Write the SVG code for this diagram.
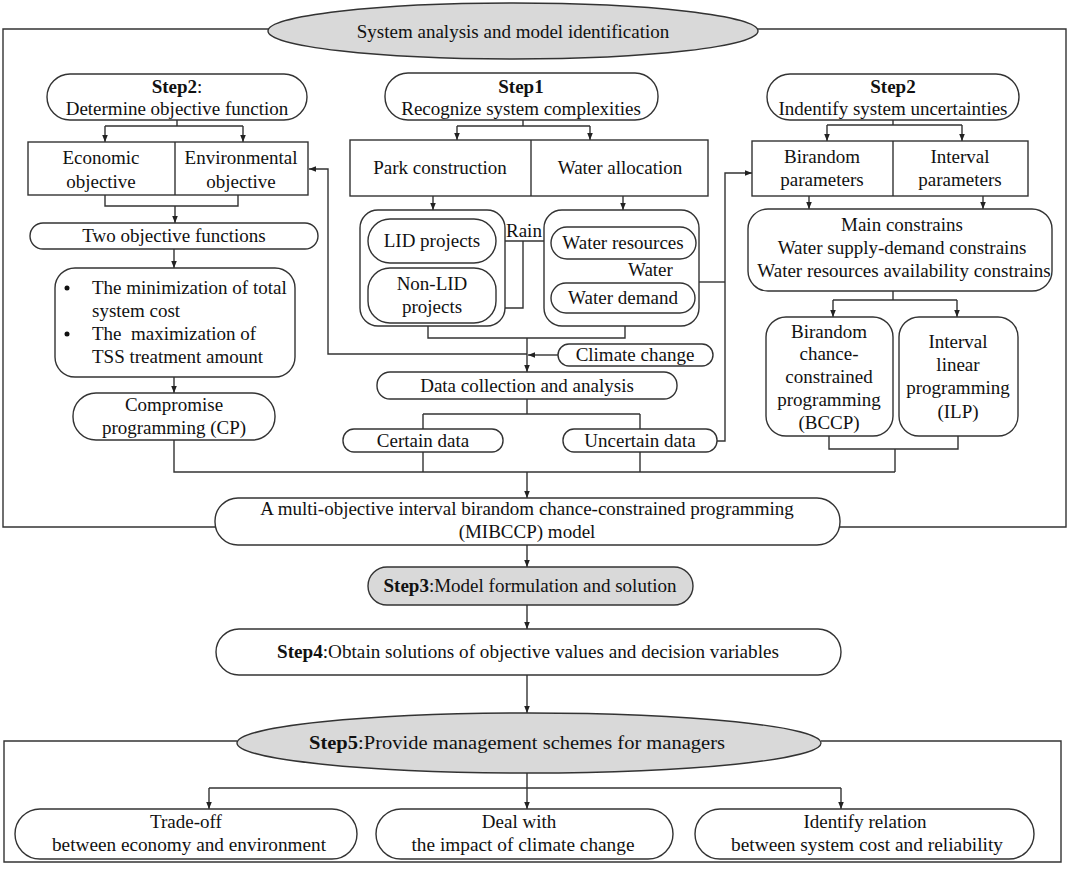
<svg xmlns="http://www.w3.org/2000/svg" width="1072" height="869" viewBox="0 0 1072 869">
<style>
.n{fill:#fff;stroke:#333;stroke-width:1.4}
.g{fill:#d9d9d9;stroke:#333;stroke-width:1.4}
.c{fill:none;stroke:#333;stroke-width:1.4}
.a{fill:none;stroke:#333;stroke-width:1.4;marker-end:url(#ah)}
text{font-family:"Liberation Serif","Times New Roman",serif;font-size:19px;fill:#111;text-anchor:middle}
.s{text-anchor:start}
.b{font-weight:bold}
</style>
<defs>
<marker id="ah" viewBox="0 0 10 10" refX="10" refY="5" markerWidth="7" markerHeight="7" markerUnits="userSpaceOnUse" orient="auto"><path d="M0,1 L10,5 L0,9z" fill="#222"/></marker>
</defs>
<rect width="1072" height="869" fill="#fff"/>

<g id="connectors">
<path class="c" d="M215,527 H3 V29 H269 M757,29 H1066 V527 H840"/>
<path class="c" d="M237,741 H4 V862 H1061 V741 H821"/>
<path class="c" d="M177,120 V126 M105,126 H243"/>
<path class="a" d="M105,126 V142"/>
<path class="a" d="M243,126 V142"/>
<path class="c" d="M105,195 V206 H238 V195"/>
<path class="a" d="M175,206 V223"/>
<path class="a" d="M174,249 V268"/>
<path class="a" d="M174,377 V393"/>
<path class="c" d="M174,440 V472 H895"/>
<path class="c" d="M523,120 V126 M457,126 H590"/>
<path class="a" d="M457,126 V140"/>
<path class="a" d="M590,126 V140"/>
<path class="a" d="M433,196 V210"/>
<path class="a" d="M623,196 V210"/>
<path class="a" d="M496,241 H551"/>
<path class="c" d="M496,308 H523 V241"/>
<path class="a" d="M623,259 V283"/>
<path class="c" d="M428,326 V338 H625 V326"/>
<path class="a" d="M527,338 V372"/>
<path class="a" d="M558,355 H528"/>
<path class="a" d="M527,354 H328 V169 H309"/>
<path class="c" d="M527,399 V414 M423,414 H640 M423,414 V429 M640,414 V429"/>
<path class="c" d="M423,452 V472 M640,452 V472"/>
<path class="a" d="M527,472 V498"/>
<path class="a" d="M717,441 H725 V173 H752"/>
<path class="c" d="M699,282 H725"/>
<path class="c" d="M893,120 V125 M827,125 H962"/>
<path class="a" d="M827,125 V141"/>
<path class="a" d="M962,125 V141"/>
<path class="a" d="M809,196 V209"/>
<path class="a" d="M983,196 V209"/>
<path class="c" d="M893,291 V300 M833,300 H957"/>
<path class="a" d="M833,300 V317"/>
<path class="a" d="M957,300 V317"/>
<path class="c" d="M829,436 V449 H958 V436 M895,449 V472"/>
<path class="a" d="M527,545 V567"/>
<path class="a" d="M527,605 V629"/>
<path class="a" d="M527,675 V713"/>
<path class="c" d="M209,788 H841"/>
<path class="a" d="M209,788 V809"/>
<path class="a" d="M527,773 V809"/>
<path class="a" d="M841,788 V809"/>
</g>

<g id="system-analysis">
<ellipse class="g" cx="513" cy="31" rx="245" ry="28"/>
<text x="513" y="38">System analysis and model identification</text>
</g>

<g id="step2-objective">
<rect class="n" x="47" y="74" width="260" height="46" rx="23"/>
<text x="177" y="93"><tspan class="b">Step2</tspan>:</text>
<text x="177" y="115">Determine objective function</text>
</g>
<g id="objectives">
<rect class="n" x="28" y="142" width="280" height="53"/>
<path class="c" d="M175,142 V195"/>
<text x="101" y="164">Economic</text>
<text x="101" y="188">objective</text>
<text x="241" y="164">Environmental</text>
<text x="241" y="188">objective</text>
</g>
<g id="two-objective">
<rect class="n" x="30" y="223" width="288" height="26" rx="13"/>
<text x="174" y="242">Two objective functions</text>
</g>
<g id="min-max">
<rect class="n" x="55" y="268" width="240" height="109" rx="20"/>
<circle cx="67" cy="288" r="2.5" fill="#111"/>
<circle cx="67" cy="334" r="2.5" fill="#111"/>
<text class="s" x="92" y="294">The minimization of total</text>
<text class="s" x="92" y="317">system cost</text>
<text class="s" x="92" y="340" xml:space="preserve">The  maximization of</text>
<text class="s" x="92" y="363">TSS treatment amount</text>
</g>
<g id="cp">
<rect class="n" x="73" y="393" width="202" height="47" rx="23"/>
<text x="174" y="411">Compromise</text>
<text x="174" y="434">programming (CP)</text>
</g>

<g id="step1">
<rect class="n" x="385" y="73" width="273" height="47" rx="23"/>
<text x="521" y="93" class="b">Step1</text>
<text x="521" y="115">Recognize system complexities</text>
</g>
<g id="park-water">
<rect class="n" x="350" y="140" width="358" height="56"/>
<path class="c" d="M531,140 V196"/>
<text x="440" y="174">Park construction</text>
<text x="620" y="174">Water allocation</text>
</g>
<g id="park-group">
<rect class="n" x="360" y="210" width="145" height="116" rx="18"/>
</g>
<g id="lid">
<rect class="n" x="368" y="219" width="128" height="44" rx="22"/>
<text x="432" y="247">LID projects</text>
</g>
<g id="non-lid">
<rect class="n" x="368" y="268" width="128" height="55" rx="22"/>
<text x="432" y="290">Non-LID</text>
<text x="432" y="313">projects</text>
</g>
<g id="water-group">
<rect class="n" x="544" y="210" width="155" height="116" rx="18"/>
</g>
<g id="water-resources">
<rect class="n" x="551" y="227" width="145" height="32" rx="16"/>
<text x="623" y="249">Water resources</text>
</g>
<g id="water-demand">
<rect class="n" x="551" y="283" width="144" height="30" rx="15"/>
<text x="623" y="304">Water demand</text>
</g>
<g id="labels">
<text class="s" x="506" y="237">Rain</text>
<text class="s" x="628" y="276">Water</text>
</g>
<g id="climate">
<rect class="n" x="558" y="344" width="155" height="22" rx="11"/>
<text x="635" y="361">Climate change</text>
</g>
<g id="data-collection">
<rect class="n" x="377" y="372" width="300" height="27" rx="13"/>
<text x="527" y="392">Data collection and analysis</text>
</g>
<g id="certain">
<rect class="n" x="343" y="429" width="160" height="23" rx="11"/>
<text x="423" y="447">Certain data</text>
</g>
<g id="uncertain">
<rect class="n" x="563" y="429" width="154" height="23" rx="11"/>
<text x="640" y="447">Uncertain data</text>
</g>

<g id="step2-uncertainty">
<rect class="n" x="767" y="74" width="252" height="46" rx="23"/>
<text x="893" y="93" class="b">Step2</text>
<text x="893" y="115">Indentify system uncertainties</text>
</g>
<g id="parameters">
<rect class="n" x="752" y="141" width="276" height="55"/>
<path class="c" d="M893,141 V196"/>
<text x="822" y="163">Birandom</text>
<text x="822" y="186">parameters</text>
<text x="960" y="163">Interval</text>
<text x="960" y="186">parameters</text>
</g>
<g id="constrains">
<rect class="n" x="748" y="209" width="304" height="82" rx="20"/>
<text x="902" y="231">Main constrains</text>
<text x="902" y="254">Water supply-demand constrains</text>
<text x="904" y="277">Water resources availability constrains</text>
</g>
<g id="bccp">
<rect class="n" x="766" y="317" width="127" height="119" rx="20"/>
<text x="829" y="338">Birandom</text>
<text x="829" y="360">chance-</text>
<text x="829" y="383">constrained</text>
<text x="829" y="406">programming</text>
<text x="829" y="429">(BCCP)</text>
</g>
<g id="ilp">
<rect class="n" x="899" y="317" width="119" height="119" rx="20"/>
<text x="958" y="348">Interval</text>
<text x="958" y="371">linear</text>
<text x="958" y="394">programming</text>
<text x="958" y="418">(ILP)</text>
</g>

<g id="mibccp">
<rect class="n" x="215" y="498" width="625" height="47" rx="23"/>
<text x="527" y="515">A multi-objective interval birandom chance-constrained programming</text>
<text x="527" y="538">(MIBCCP) model</text>
</g>
<g id="step3">
<rect class="g" x="368" y="567" width="325" height="38" rx="19"/>
<text x="530" y="592" textLength="293" lengthAdjust="spacingAndGlyphs"><tspan class="b">Step3</tspan>:Model formulation and solution</text>
</g>
<g id="step4">
<rect class="n" x="216" y="629" width="625" height="46" rx="23"/>
<text x="528" y="658" textLength="502" lengthAdjust="spacingAndGlyphs"><tspan class="b">Step4</tspan>:Obtain solutions of objective values and decision variables</text>
</g>
<g id="step5">
<ellipse class="g" cx="529" cy="743" rx="292" ry="30"/>
<text x="517" y="749" textLength="416" lengthAdjust="spacingAndGlyphs"><tspan class="b">Step5</tspan>:Provide management schemes for managers</text>
</g>
<g id="tradeoff">
<rect class="n" x="15" y="809" width="342" height="50" rx="25"/>
<text x="186" y="828">Trade-off</text>
<text x="189" y="851" textLength="274" lengthAdjust="spacingAndGlyphs">between economy and environment</text>
</g>
<g id="deal">
<rect class="n" x="376" y="809" width="297" height="50" rx="25"/>
<text x="519" y="828">Deal with</text>
<text x="523" y="851" textLength="223" lengthAdjust="spacingAndGlyphs">the impact of climate change</text>
</g>
<g id="identify">
<rect class="n" x="695" y="809" width="339" height="50" rx="25"/>
<text x="865" y="828">Identify relation</text>
<text x="867" y="851" textLength="272" lengthAdjust="spacingAndGlyphs">between system cost and reliability</text>
</g>
</svg>
